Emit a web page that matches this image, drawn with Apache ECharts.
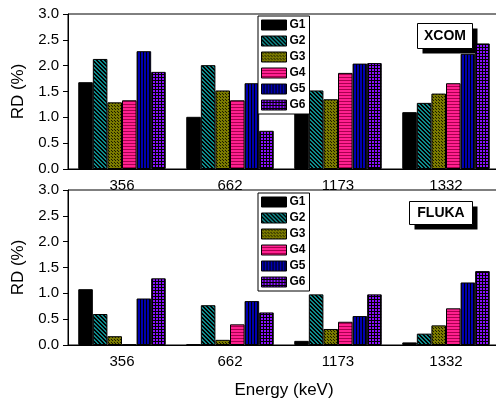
<!DOCTYPE html>
<html>
<head>
<meta charset="utf-8">
<script src="https://cdn.jsdelivr.net/npm/echarts@6/dist/echarts.min.js"></script>
<style>
  html, body { margin: 0; padding: 0; overflow: hidden; background: #fff; }
  #chart { width: 502px; height: 403px; }
</style>
</head>
<body>
<div id="chart"></div>
<script>
const categories = ['356', '662', '1173', '1332']
const groupNames = ['G1', 'G2', 'G3', 'G4', 'G5', 'G6']
const yTicks = [0, 0.5, 1, 1.5, 2, 2.5, 3]

// XCOM relative deviation (%)
const xcomG1 = [1.68, 1.01, 1.18, 1.10]
const xcomG2 = [2.13, 2.01, 1.52, 1.28]
const xcomG3 = [1.29, 1.52, 1.35, 1.46]
const xcomG4 = [1.33, 1.33, 1.86, 1.66]
const xcomG5 = [2.28, 1.66, 2.04, 2.23]
const xcomG6 = [1.88, 0.74, 2.05, 2.43]

// FLUKA relative deviation (%)
const flukaG1 = [1.08, 0.01, 0.08, 0.05]
const flukaG2 = [0.60, 0.77, 0.98, 0.22]
const flukaG3 = [0.17, 0.10, 0.31, 0.38]
const flukaG4 = [0.01, 0.40, 0.45, 0.71]
const flukaG5 = [0.90, 0.85, 0.56, 1.21]
const flukaG6 = [1.29, 0.63, 0.98, 1.43]

const xcom = [xcomG1, xcomG2, xcomG3, xcomG4, xcomG5, xcomG6]
const fluka = [flukaG1, flukaG2, flukaG3, flukaG4, flukaG5, flukaG6]

const FONT = 'Liberation Sans, Arial, sans-serif'

// small tiled canvases for the hatch fills
const pattern = (size, bg, fg, isInk) => {
  const c = document.createElement('canvas')
  c.width = size
  c.height = size
  const ctx = c.getContext('2d')
  ctx.fillStyle = bg
  ctx.fillRect(0, 0, size, size)
  ctx.fillStyle = fg
  for (let y = 0; y < size; y++) {
    for (let x = 0; x < size; x++) {
      if (isInk(x, y)) ctx.fillRect(x, y, 1, 1)
    }
  }
  return { image: c, repeat: 'repeat' }
}

const makeFill = k => [
  () => '#000',
  () => pattern(4, '#0f8a8a', '#000', (x, y) => (x - y + 4) % 4 === 0 || (x - y + 4) % 4 === 1),
  () => pattern(6, '#7a7a00', '#1a1a00', (x, y) => (x % 3 === 0 && y % 3 === 0) || (x % 3 === 1 && y % 3 === 1)),
  () => pattern(3, '#ff2090', '#a8004e', (x, y) => y === 2),
  () => pattern(3, '#0000b0', '#000', (x, y) => x === 2),
  () => pattern(3, '#8a10ff', '#000', (x, y) => x === 2 || y === 2)
][k]()

const grids = [
  { left: 68, top: 14, height: 155, right: 2 },
  { left: 68, top: 190, height: 155, right: 2 }
]

const xAxes = [0, 1].map(i => ({
  type: 'category',
  gridIndex: i,
  data: categories,
  axisLine: { lineStyle: { color: '#000', width: 1 } },
  axisTick: { alignWithLabel: true, length: 6, lineStyle: { color: '#000' } },
  axisLabel: { color: '#000', fontSize: 15, fontFamily: FONT, margin: 9 },
  name: i === 1 ? 'Energy (keV)' : '',
  nameLocation: 'middle',
  nameGap: 37,
  nameTextStyle: { color: '#000', fontSize: 17, fontFamily: FONT }
}))

const yAxes = [0, 1].map(i => ({
  type: 'value',
  gridIndex: i,
  min: yTicks[0],
  max: yTicks[yTicks.length - 1],
  interval: 0.5,
  splitLine: { show: false },
  axisLine: { show: true, lineStyle: { color: '#000', width: 1 } },
  axisTick: { show: true, length: 5, lineStyle: { color: '#000' } },
  axisLabel: { color: '#000', fontSize: 15, fontFamily: FONT, margin: 9, formatter: v => v.toFixed(1) },
  name: 'RD (%)',
  nameLocation: 'middle',
  nameGap: 34,
  nameTextStyle: { color: '#000', fontSize: 17, fontFamily: FONT }
}))

const series = []
;[xcom, fluka].forEach((set, gi) => {
  set.forEach((values, k) => {
    series.push({
      name: groupNames[k],
      type: 'bar',
      xAxisIndex: gi,
      yAxisIndex: gi,
      data: values,
      barGap: '0%',
      barCategoryGap: '19%',
      itemStyle: { color: makeFill(k), borderColor: '#000', borderWidth: 1 },
      emphasis: { disabled: true }
    })
  })
})

const legends = [16, 193].map(top => ({
  data: groupNames,
  orient: 'vertical',
  left: 258,
  top: top,
  icon: 'rect',
  itemWidth: 25,
  itemHeight: 10,
  itemGap: 4,
  padding: [3, 4, 3, 3],
  borderColor: '#000',
  borderWidth: 1,
  backgroundColor: '#fff',
  selectedMode: false,
  itemStyle: { borderColor: '#000', borderWidth: 1 },
  textStyle: { color: '#000', fontSize: 12, fontWeight: 'bold', fontFamily: FONT, padding: [0, 0, 0, -2] }
}))

const tag = (text, x, y, w, h) => ({
  type: 'group',
  left: x,
  top: y,
  children: [
    { type: 'rect', shape: { x: 5, y: 5, width: w, height: h }, style: { fill: '#000' } },
    { type: 'rect', shape: { x: 0, y: 0, width: w, height: h }, style: { fill: '#fff', stroke: '#000', lineWidth: 1 } },
    {
      type: 'text', x: w / 2, y: h / 2,
      style: { text: text, fill: '#000', font: 'bold 14px ' + FONT, align: 'center', verticalAlign: 'middle' }
    }
  ]
})

const chart = echarts.init(document.getElementById('chart'))
chart.setOption({
  animation: false,
  grid: grids.map(g => Object.assign({ show: true, borderColor: '#000', borderWidth: 1 }, g)),
  xAxis: xAxes,
  yAxis: yAxes,
  legend: legends,
  series: series,
  graphic: [
    tag('XCOM', 417, 23, 55, 25),
    tag('FLUKA', 409, 201, 63, 23)
  ]
})
</script>
</body>
</html>
